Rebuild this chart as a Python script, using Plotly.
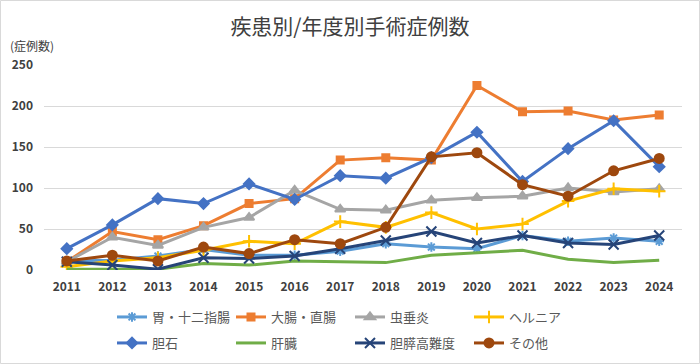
import plotly.graph_objects as go

years = ["2011", "2012", "2013", "2014", "2015", "2016", "2017", "2018", "2019", "2020", "2021", "2022", "2023", "2024"]

stomach = [11, 12, 17, 25, 18, 18, 23, 32, 28, 26, 42, 35, 39, 35]
colon = [10, 47, 37, 54, 81, 87, 134, 137, 134, 225, 193, 194, 183, 189]
appendicitis = [10, 40, 30, 52, 64, 97, 74, 73, 85, 88, 90, 100, 95, 99]
hernia = [4, 11, 15, 24, 35, 32, 59, 52, 70, 50, 56, 84, 99, 96]
gallstone = [26, 55, 87, 81, 105, 86, 115, 112, 137, 168, 108, 148, 182, 126]
liver = [1, 1, 1, 8, 6, 11, 10, 9, 18, 21, 24, 13, 9, 12]
hbp_adv = [10, 6, 1, 15, 14, 17, 26, 36, 47, 33, 42, 33, 31, 42]
other = [11, 18, 11, 28, 20, 37, 32, 52, 138, 143, 104, 90, 121, 136]

series_names = ["胃・十二指腸", "大腸・直腸", "虫垂炎", "ヘルニア", "胆石", "肝臓", "胆膵高難度", "その他"]
series_values = [stomach, colon, appendicitis, hernia, gallstone, liver, hbp_adv, other]
colors = ["#5B9BD5", "#ED7D31", "#A5A5A5", "#FFC000", "#4472C4", "#70AD47", "#264478", "#9E480E"]
symbols = ["asterisk-open", "square", "triangle-up", "cross-thin-open", "diamond", None, "x-thin-open", "circle"]
msizes = [8, 7, 9, 9, 8, 0, 10, 9]

FONT = "Noto Sans CJK JP"
W, H = 700, 364
ml, mr, mt, mb = 44, 18, 65, 94
pw, ph = W - ml - mr, H - mt - mb

# legend grid: 4 columns x 2 rows (pixel positions of item boxes)
col_px = [112, 231, 350, 469]
row_px = [317, 343]

fig = go.Figure()
legend_layouts = {}
for i, (name, vals, c, s, ms) in enumerate(zip(series_names, series_values, colors, symbols, msizes)):
    if s is None:
        mode = "lines"
        marker = None
    else:
        mode = "lines+markers"
        marker = dict(symbol=s, size=ms, color=c, line=dict(color=c, width=2))
    lid = "legend" if i == 0 else f"legend{i + 1}"
    fig.add_trace(go.Scatter(
        x=years, y=vals, name=name, mode=mode,
        line=dict(color=c, width=3),
        marker=marker,
        legend=lid, showlegend=True,
    ))
    col, row = i % 4, i // 4
    legend_layouts[lid] = dict(
        orientation="v", x=(col_px[col] - ml) / pw, xanchor="left",
        y=(H - mb - row_px[row]) / ph, yanchor="middle",
        font=dict(size=13, color="#595959", family=FONT), itemwidth=30,
        bgcolor="rgba(0,0,0,0)", borderwidth=0, visible=True,
    )

fig.update_layout(
    width=W, height=H,
    showlegend=True,
    margin=dict(l=ml, r=mr, t=mt, b=mb, autoexpand=False),
    paper_bgcolor="white", plot_bgcolor="white",
    font=dict(family=FONT, color="#595959"),
    title=dict(text="疾患別/年度別手術症例数", x=0.5, xanchor="center", y=1 - 27 / H, yanchor="middle",
               font=dict(size=21, color="#404040", family=FONT)),
    xaxis=dict(type="category", range=[-0.5, 13.5], showgrid=False, showline=False, zeroline=False,
               tickfont=dict(size=12, color="#404040", family=FONT, weight="bold"), ticks="",
               ticklabelstandoff=8, automargin=False),
    yaxis=dict(range=[0, 250], tickvals=[0, 50, 100, 150, 200, 250], showgrid=True, gridcolor="#D9D9D9",
               gridwidth=1, zeroline=False, showline=False, ticks="",
               tickfont=dict(size=12, color="#404040", family=FONT, weight="bold"), ticklabelstandoff=10,
               automargin=False),
    annotations=[dict(text="(症例数)", xref="paper", yref="paper", x=(8 - ml) / pw, y=(H - mb - 46) / ph,
                      xanchor="left", yanchor="middle", showarrow=False,
                      font=dict(size=12, color="#404040", family=FONT))],
    shapes=[dict(type="rect", xref="paper", yref="paper",
                 x0=(0.5 - ml) / pw, x1=(W - 0.5 - ml) / pw,
                 y0=(H - mb - (H - 0.5)) / ph, y1=(H - mb - 0.5) / ph,
                 line=dict(color="#D9D9D9", width=1), fillcolor="rgba(0,0,0,0)", layer="below")],
    **legend_layouts,
)

fig.write_html("out.html", config={"displayModeBar": False},
               post_script="document.body.style.margin='0';")
